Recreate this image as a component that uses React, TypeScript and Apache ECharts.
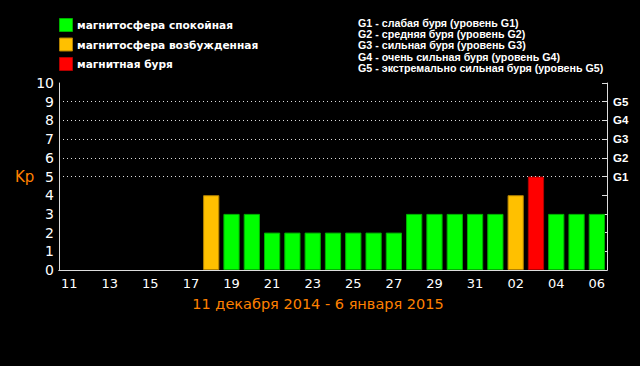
import React, { useEffect, useRef } from "react";
import * as echarts from "echarts";

const days = ["11","12","13","14","15","16","17","18","19","20","21","22","23","24","25","26","27","28","29","30","31","01","02","03","04","05","06"];
const kpValues = [0,0,0,0,0,0,0,4,3,3,2,2,2,2,2,2,2,3,3,3,3,3,4,5,3,3,3];
const stormLevels = [5, 6, 7, 8, 9];
const gLabels = ["G1", "G2", "G3", "G4", "G5"];
const legendItems = ["магнитосфера спокойная", "магнитосфера возбужденная", "магнитная буря"];
const gDescriptions = [
  "G1 - слабая буря (уровень G1)",
  "G2 - средняя буря (уровень G2)",
  "G3 - сильная буря (уровень G3)",
  "G4 - очень сильная буря (уровень G4)",
  "G5 - экстремально сильная буря (уровень G5)",
];
const periodTitle = "11 декабря 2014 - 6 января 2015";
const yMin = 0;
const yMax = 10;

const FONT = "DejaVu Sans";
const fills = ["#00ff00", "#ffc000", "#ff0000"];
const borders = ["#00b000", "#b08000", "#b00000"];

function levelOf(v: number) {
  if (v >= 5) return 2;
  if (v >= 4) return 1;
  return 0;
}

export default function App() {
  const ref = useRef<HTMLDivElement>(null);
  useEffect(() => {
    if (!ref.current) return;
    const chart = echarts.init(ref.current, null, { renderer: "svg" });
    const graphics: any[] = [];
    legendItems.forEach((t, i) => {
      const y = 18 + i * 19.5;
      graphics.push({
        type: "rect",
        shape: { x: 59.5, y: y + 0.5, width: 13, height: 13 },
        style: { fill: fills[i], stroke: borders[i], lineWidth: 1 },
      });
      graphics.push({
        type: "text",
        x: 77,
        y: y + 7,
        style: { text: t, fill: "#fff", font: `bold 10.6px "${FONT}"`, verticalAlign: "middle" },
      });
    });
    gDescriptions.forEach((t, i) => {
      graphics.push({
        type: "text",
        x: 358,
        y: 23 + i * 11.2,
        style: { text: t, fill: "#fff", font: `bold 10.7px "Liberation Sans"`, verticalAlign: "middle" },
      });
    });
    graphics.push({
      type: "text",
      x: 15,
      y: 177,
      style: { text: "Kp", fill: "#ff8000", font: `15px "${FONT}"`, verticalAlign: "middle" },
    });
    graphics.push({
      type: "text",
      x: 318,
      y: 304,
      style: { text: periodTitle, fill: "#ff8000", font: `14.5px "${FONT}"`, align: "center", verticalAlign: "middle" },
    });

    chart.setOption({
      animation: false,
      backgroundColor: "#000",
      grid: { left: 59, right: 33, top: 83, bottom: 96 },
      xAxis: [
        {
          type: "category",
          data: days,
          position: "bottom",
          axisLine: { lineStyle: { color: "#ddd", width: 1 } },
          axisTick: { inside: true, interval: 0, length: 4, lineStyle: { color: "#ddd" } },
          axisLabel: { interval: 1, color: "#fff", fontSize: 13, fontFamily: FONT, margin: 7 },
        },
        {
          type: "category",
          data: days,
          position: "top",
          axisLine: { lineStyle: { color: "#ddd", width: 1 } },
          axisTick: { inside: true, interval: 0, length: 5, lineStyle: { color: "#ddd" } },
          axisLabel: { show: false },
        },
      ],
      yAxis: [
        {
          type: "value",
          min: yMin,
          max: yMax,
          interval: 1,
          position: "left",
          axisLine: { show: true, lineStyle: { color: "#ddd" } },
          axisTick: { show: false },
          splitLine: { show: false },
          axisLabel: { color: "#fff", fontSize: 14, fontFamily: FONT, margin: 5 },
        },
        {
          type: "value",
          min: yMin,
          max: yMax,
          interval: 1,
          position: "right",
          axisLine: { show: true, lineStyle: { color: "#ddd" } },
          axisTick: { show: true, inside: true, length: 5, lineStyle: { color: "#ddd" } },
          splitLine: { show: false },
          axisLabel: {
            color: "#fff",
            fontSize: 11.5,
            fontWeight: "bold",
            fontFamily: "Liberation Sans",
            margin: 6,
            formatter: (v: number) => {
              const idx = stormLevels.indexOf(v);
              return idx >= 0 ? gLabels[idx] : "";
            },
          },
        },
      ],
      series: [
        {
          type: "bar",
          xAxisIndex: 0,
          yAxisIndex: 0,
          barWidth: "80%",
          data: kpValues.map((v) => {
            const l = levelOf(v);
            return { value: v, itemStyle: { color: fills[l], borderColor: borders[l], borderWidth: v > 0 ? 1 : 0 } };
          }),
          markLine: {
            silent: true,
            symbol: "none",
            label: { show: false },
            lineStyle: { color: "#ddd", type: [1, 3], width: 1 },
            data: stormLevels.map((v) => ({ yAxis: v })),
          },
        },
      ],
      graphic: graphics,
    });
    return () => chart.dispose();
  }, []);
  return <div ref={ref} style={{ position: "fixed", left: 0, top: 0, width: 640, height: 366 }} />;
}
